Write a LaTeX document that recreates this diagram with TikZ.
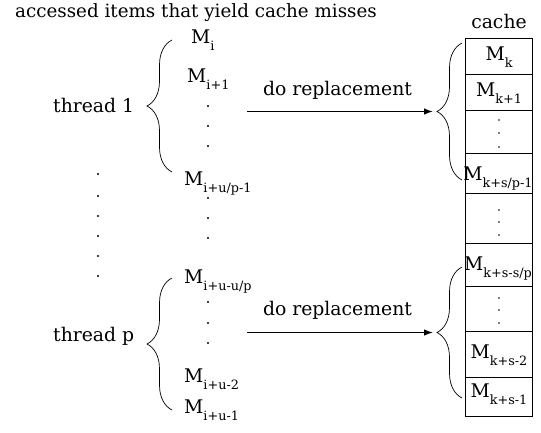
\documentclass[tikz,border=0pt]{standalone}
\usepackage{fontspec}
\setmainfont{DejaVu Serif}
\usetikzlibrary{decorations.pathreplacing,arrows.meta}
\newcommand\mainfs{\fontsize{18.8}{21}\selectfont}
\newcommand\titlefs{\fontsize{18.3}{21}\selectfont}
\newcommand\subfs{\fontsize{12.8}{14}\selectfont}
\newcommand\Msb[1]{M\raisebox{-7pt}{\subfs #1}}
\begin{document}
\begin{tikzpicture}[x=1pt,y=-1pt,
  txt/.style={font=\mainfs, inner sep=0pt, anchor=base},
  txtw/.style={font=\mainfs, inner sep=0pt, anchor=base west},
  cell/.style={draw, line width=0.7pt, minimum width=67pt, inner sep=0pt, anchor=north},
  bracestyle/.style={decorate, decoration={brace, amplitude=25pt}, line width=0.7pt},
  arr/.style={-{Latex[length=9pt,width=6.5pt]}, line width=1.3pt},
  vdot/.style={circle, fill, inner sep=0pt, minimum size=2.2pt},
  cdot/.style={circle, fill, inner sep=0pt, minimum size=1.6pt}]
\useasboundingbox (0,0) rectangle (541,432);

% title and headings
\node[txtw, font=\titlefs] (title) at (15,17) {accessed items that yield cache misses};
\node[txt] (cachelbl) at (499,28) {cache};
\node[txtw] (t1) at (53,112) {thread 1};
\node[txtw] (tp) at (53,341) {thread p};

% cache cells
\node[cell, minimum height=36pt] (c1) at (499,38) {};
\node[cell, minimum height=36pt] (c2) at (499,74) {};
\node[cell, minimum height=43pt] (c3) at (499,110) {};
\node[cell, minimum height=40pt] (c4) at (499,153) {};
\node[cell, minimum height=50pt] (c5) at (499,193) {};
\node[cell, minimum height=43pt] (c6) at (499,243) {};
\node[cell, minimum height=45pt] (c7) at (499,286) {};
\node[cell, minimum height=46pt] (c8) at (499,331) {};
\node[cell, minimum height=39pt] (c9) at (499,377) {};

% cache labels
\node[txt] (mk1) at (499,60) {\Msb{k}};
\node[txt] (mk2) at (499,96) {\Msb{k+1}};
\node[txt] (mk4) at (498,180) {\Msb{k+s/p-1}};
\node[txt] (mk6) at (498,270) {\Msb{k+s-s/p}};
\node[txt] (mk8) at (499,358) {\Msb{k+s-2}};
\node[txt] (mk9) at (499,397) {\Msb{k+s-1}};

% cache dots
\foreach \y [count=\i] in {120,133,147,210,222,235,298,310,323}
  \node[cdot] (cd\i) at (499,\y) {};

% left labels
\node[txtw] (mi1) at (191,43) {\Msb{i}};
\node[txtw] (mi2) at (187,82) {\Msb{i+1}};
\node[txtw] (mi3) at (184,185) {\Msb{i+u/p-1}};
\node[txtw] (mi4) at (184,283) {\Msb{i+u-u/p}};
\node[txtw] (mi5) at (184,382) {\Msb{i+u-2}};
\node[txtw] (mi6) at (184,413) {\Msb{i+u-1}};

% left dots
\foreach \y [count=\i] in {106,126,146,198,218,238,302,323,343}
  \node[vdot] (ld\i) at (208,\y) {};
\foreach \y [count=\i] in {174,196,216,236,256,276}
  \node[vdot] (fd\i) at (98,\y) {};

% braces
\draw[bracestyle] (172,172) -- (172,40);
\draw[bracestyle] (172,410) -- (172,278);
\draw[bracestyle] (462,180) -- (462,43);
\draw[bracestyle] (462,398) -- (462,267);

% arrows
\coordinate (a1s) at (247,111.5);
\coordinate (a1e) at (433,111.5);
\coordinate (a2s) at (247,332.5);
\coordinate (a2e) at (433,332.5);
\draw[arr] (a1s) -- (a1e);
\draw[arr] (a2s) -- (a2e);
\node[txt] (dr1) at (337.5,95) {do replacement};
\node[txt] (dr2) at (337.5,315) {do replacement};
\end{tikzpicture}
\end{document}
